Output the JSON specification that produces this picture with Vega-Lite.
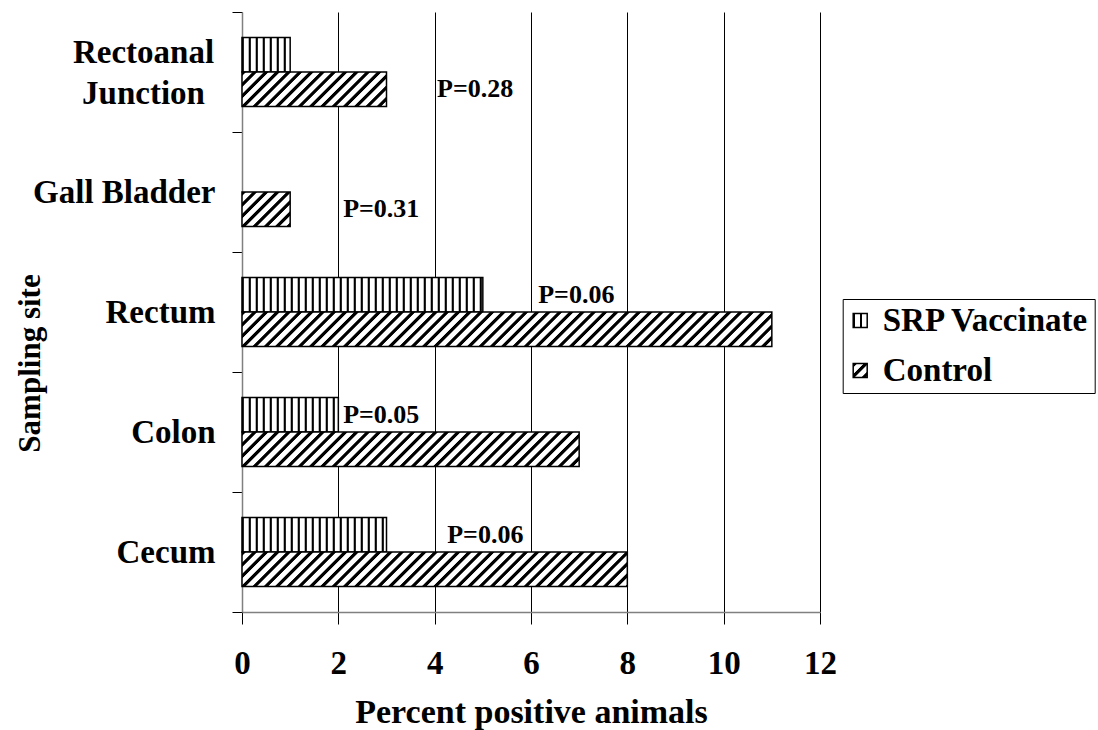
{
  "$schema": "https://vega.github.io/schema/vega-lite/v6.json",
  "width": 578,
  "height": 600,
  "autosize": "none",
  "padding": {"left": 242, "top": 12, "right": 278, "bottom": 118},
  "background": "white",
  "config": {"view": {"stroke": null}, "font": "Liberation Serif"},
  "params": [
    {"name": "srpStops", "value": [
      {"offset":0,"color":"#000"},{"offset":0.004,"color":"#000"},{"offset":0.006,"color":"#fff"},{"offset":0.018,"color":"#fff"},
      {"offset":0.02,"color":"#000"},{"offset":0.024,"color":"#000"},{"offset":0.026,"color":"#fff"},{"offset":0.038,"color":"#fff"},
      {"offset":0.04,"color":"#000"},{"offset":0.044,"color":"#000"},{"offset":0.046,"color":"#fff"},{"offset":0.058,"color":"#fff"},
      {"offset":0.06,"color":"#000"},{"offset":0.064,"color":"#000"},{"offset":0.066,"color":"#fff"},{"offset":0.078,"color":"#fff"},
      {"offset":0.08,"color":"#000"},{"offset":0.084,"color":"#000"},{"offset":0.086,"color":"#fff"},{"offset":0.098,"color":"#fff"},
      {"offset":0.1,"color":"#000"},{"offset":0.104,"color":"#000"},{"offset":0.106,"color":"#fff"},{"offset":0.118,"color":"#fff"},
      {"offset":0.12,"color":"#000"},{"offset":0.124,"color":"#000"},{"offset":0.126,"color":"#fff"},{"offset":0.138,"color":"#fff"},
      {"offset":0.14,"color":"#000"},{"offset":0.144,"color":"#000"},{"offset":0.146,"color":"#fff"},{"offset":0.158,"color":"#fff"},
      {"offset":0.16,"color":"#000"},{"offset":0.164,"color":"#000"},{"offset":0.166,"color":"#fff"},{"offset":0.178,"color":"#fff"},
      {"offset":0.18,"color":"#000"},{"offset":0.184,"color":"#000"},{"offset":0.186,"color":"#fff"},{"offset":0.198,"color":"#fff"},
      {"offset":0.2,"color":"#000"},{"offset":0.204,"color":"#000"},{"offset":0.206,"color":"#fff"},{"offset":0.218,"color":"#fff"},
      {"offset":0.22,"color":"#000"},{"offset":0.224,"color":"#000"},{"offset":0.226,"color":"#fff"},{"offset":0.238,"color":"#fff"},
      {"offset":0.24,"color":"#000"},{"offset":0.244,"color":"#000"},{"offset":0.246,"color":"#fff"},{"offset":0.258,"color":"#fff"},
      {"offset":0.26,"color":"#000"},{"offset":0.264,"color":"#000"},{"offset":0.266,"color":"#fff"},{"offset":0.278,"color":"#fff"},
      {"offset":0.28,"color":"#000"},{"offset":0.284,"color":"#000"},{"offset":0.286,"color":"#fff"},{"offset":0.298,"color":"#fff"},
      {"offset":0.3,"color":"#000"},{"offset":0.304,"color":"#000"},{"offset":0.306,"color":"#fff"},{"offset":0.318,"color":"#fff"},
      {"offset":0.32,"color":"#000"},{"offset":0.324,"color":"#000"},{"offset":0.326,"color":"#fff"},{"offset":0.338,"color":"#fff"},
      {"offset":0.34,"color":"#000"},{"offset":0.344,"color":"#000"},{"offset":0.346,"color":"#fff"},{"offset":0.358,"color":"#fff"},
      {"offset":0.36,"color":"#000"},{"offset":0.364,"color":"#000"},{"offset":0.366,"color":"#fff"},{"offset":0.378,"color":"#fff"},
      {"offset":0.38,"color":"#000"},{"offset":0.384,"color":"#000"},{"offset":0.386,"color":"#fff"},{"offset":0.398,"color":"#fff"},
      {"offset":0.4,"color":"#000"},{"offset":0.404,"color":"#000"},{"offset":0.406,"color":"#fff"},{"offset":0.418,"color":"#fff"},
      {"offset":0.42,"color":"#000"},{"offset":0.424,"color":"#000"},{"offset":0.426,"color":"#fff"},{"offset":0.438,"color":"#fff"},
      {"offset":0.44,"color":"#000"},{"offset":0.444,"color":"#000"},{"offset":0.446,"color":"#fff"},{"offset":0.458,"color":"#fff"},
      {"offset":0.46,"color":"#000"},{"offset":0.464,"color":"#000"},{"offset":0.466,"color":"#fff"},{"offset":0.478,"color":"#fff"},
      {"offset":0.48,"color":"#000"},{"offset":0.484,"color":"#000"},{"offset":0.486,"color":"#fff"},{"offset":0.498,"color":"#fff"},
      {"offset":0.5,"color":"#000"},{"offset":0.504,"color":"#000"},{"offset":0.506,"color":"#fff"},{"offset":0.518,"color":"#fff"},
      {"offset":0.52,"color":"#000"},{"offset":0.524,"color":"#000"},{"offset":0.526,"color":"#fff"},{"offset":0.538,"color":"#fff"},
      {"offset":0.54,"color":"#000"},{"offset":0.544,"color":"#000"},{"offset":0.546,"color":"#fff"},{"offset":0.558,"color":"#fff"},
      {"offset":0.56,"color":"#000"},{"offset":0.564,"color":"#000"},{"offset":0.566,"color":"#fff"},{"offset":0.578,"color":"#fff"},
      {"offset":0.58,"color":"#000"},{"offset":0.584,"color":"#000"},{"offset":0.586,"color":"#fff"},{"offset":0.598,"color":"#fff"},
      {"offset":0.6,"color":"#000"},{"offset":0.604,"color":"#000"},{"offset":0.606,"color":"#fff"},{"offset":0.618,"color":"#fff"},
      {"offset":0.62,"color":"#000"},{"offset":0.624,"color":"#000"},{"offset":0.626,"color":"#fff"},{"offset":0.638,"color":"#fff"},
      {"offset":0.64,"color":"#000"},{"offset":0.644,"color":"#000"},{"offset":0.646,"color":"#fff"},{"offset":0.658,"color":"#fff"},
      {"offset":0.66,"color":"#000"},{"offset":0.664,"color":"#000"},{"offset":0.666,"color":"#fff"},{"offset":0.678,"color":"#fff"},
      {"offset":0.68,"color":"#000"},{"offset":0.684,"color":"#000"},{"offset":0.686,"color":"#fff"},{"offset":0.698,"color":"#fff"},
      {"offset":0.7,"color":"#000"},{"offset":0.704,"color":"#000"},{"offset":0.706,"color":"#fff"},{"offset":0.718,"color":"#fff"},
      {"offset":1,"color":"#fff"}
    ]},
    {"name": "ctlStops", "value": [
      {"offset":0,"color":"#000"},{"offset":0.006,"color":"#000"},{"offset":0.008,"color":"#fff"},{"offset":0.018,"color":"#fff"},
      {"offset":0.02,"color":"#000"},{"offset":0.026,"color":"#000"},{"offset":0.028,"color":"#fff"},{"offset":0.038,"color":"#fff"},
      {"offset":0.04,"color":"#000"},{"offset":0.046,"color":"#000"},{"offset":0.048,"color":"#fff"},{"offset":0.058,"color":"#fff"},
      {"offset":0.06,"color":"#000"},{"offset":0.066,"color":"#000"},{"offset":0.068,"color":"#fff"},{"offset":0.078,"color":"#fff"},
      {"offset":0.08,"color":"#000"},{"offset":0.086,"color":"#000"},{"offset":0.088,"color":"#fff"},{"offset":0.098,"color":"#fff"},
      {"offset":0.1,"color":"#000"},{"offset":0.106,"color":"#000"},{"offset":0.108,"color":"#fff"},{"offset":0.118,"color":"#fff"},
      {"offset":0.12,"color":"#000"},{"offset":0.126,"color":"#000"},{"offset":0.128,"color":"#fff"},{"offset":0.138,"color":"#fff"},
      {"offset":0.14,"color":"#000"},{"offset":0.146,"color":"#000"},{"offset":0.148,"color":"#fff"},{"offset":0.158,"color":"#fff"},
      {"offset":0.16,"color":"#000"},{"offset":0.166,"color":"#000"},{"offset":0.168,"color":"#fff"},{"offset":0.178,"color":"#fff"},
      {"offset":0.18,"color":"#000"},{"offset":0.186,"color":"#000"},{"offset":0.188,"color":"#fff"},{"offset":0.198,"color":"#fff"},
      {"offset":0.2,"color":"#000"},{"offset":0.206,"color":"#000"},{"offset":0.208,"color":"#fff"},{"offset":0.218,"color":"#fff"},
      {"offset":0.22,"color":"#000"},{"offset":0.226,"color":"#000"},{"offset":0.228,"color":"#fff"},{"offset":0.238,"color":"#fff"},
      {"offset":0.24,"color":"#000"},{"offset":0.246,"color":"#000"},{"offset":0.248,"color":"#fff"},{"offset":0.258,"color":"#fff"},
      {"offset":0.26,"color":"#000"},{"offset":0.266,"color":"#000"},{"offset":0.268,"color":"#fff"},{"offset":0.278,"color":"#fff"},
      {"offset":0.28,"color":"#000"},{"offset":0.286,"color":"#000"},{"offset":0.288,"color":"#fff"},{"offset":0.298,"color":"#fff"},
      {"offset":0.3,"color":"#000"},{"offset":0.306,"color":"#000"},{"offset":0.308,"color":"#fff"},{"offset":0.318,"color":"#fff"},
      {"offset":0.32,"color":"#000"},{"offset":0.326,"color":"#000"},{"offset":0.328,"color":"#fff"},{"offset":0.338,"color":"#fff"},
      {"offset":0.34,"color":"#000"},{"offset":0.346,"color":"#000"},{"offset":0.348,"color":"#fff"},{"offset":0.358,"color":"#fff"},
      {"offset":0.36,"color":"#000"},{"offset":0.366,"color":"#000"},{"offset":0.368,"color":"#fff"},{"offset":0.378,"color":"#fff"},
      {"offset":0.38,"color":"#000"},{"offset":0.386,"color":"#000"},{"offset":0.388,"color":"#fff"},{"offset":0.398,"color":"#fff"},
      {"offset":0.4,"color":"#000"},{"offset":0.406,"color":"#000"},{"offset":0.408,"color":"#fff"},{"offset":0.418,"color":"#fff"},
      {"offset":0.42,"color":"#000"},{"offset":0.426,"color":"#000"},{"offset":0.428,"color":"#fff"},{"offset":0.438,"color":"#fff"},
      {"offset":0.44,"color":"#000"},{"offset":0.446,"color":"#000"},{"offset":0.448,"color":"#fff"},{"offset":0.458,"color":"#fff"},
      {"offset":0.46,"color":"#000"},{"offset":0.466,"color":"#000"},{"offset":0.468,"color":"#fff"},{"offset":0.478,"color":"#fff"},
      {"offset":0.48,"color":"#000"},{"offset":0.486,"color":"#000"},{"offset":0.488,"color":"#fff"},{"offset":0.498,"color":"#fff"},
      {"offset":0.5,"color":"#000"},{"offset":0.506,"color":"#000"},{"offset":0.508,"color":"#fff"},{"offset":0.518,"color":"#fff"},
      {"offset":0.52,"color":"#000"},{"offset":0.526,"color":"#000"},{"offset":0.528,"color":"#fff"},{"offset":0.538,"color":"#fff"},
      {"offset":0.54,"color":"#000"},{"offset":0.546,"color":"#000"},{"offset":0.548,"color":"#fff"},{"offset":0.558,"color":"#fff"},
      {"offset":0.56,"color":"#000"},{"offset":0.566,"color":"#000"},{"offset":0.568,"color":"#fff"},{"offset":0.578,"color":"#fff"},
      {"offset":0.58,"color":"#000"},{"offset":0.586,"color":"#000"},{"offset":0.588,"color":"#fff"},{"offset":0.598,"color":"#fff"},
      {"offset":0.6,"color":"#000"},{"offset":0.606,"color":"#000"},{"offset":0.608,"color":"#fff"},{"offset":0.618,"color":"#fff"},
      {"offset":0.62,"color":"#000"},{"offset":0.626,"color":"#000"},{"offset":0.628,"color":"#fff"},{"offset":0.638,"color":"#fff"},
      {"offset":0.64,"color":"#000"},{"offset":0.646,"color":"#000"},{"offset":0.648,"color":"#fff"},{"offset":0.658,"color":"#fff"},
      {"offset":0.66,"color":"#000"},{"offset":0.666,"color":"#000"},{"offset":0.668,"color":"#fff"},{"offset":0.678,"color":"#fff"},
      {"offset":0.68,"color":"#000"},{"offset":0.686,"color":"#000"},{"offset":0.688,"color":"#fff"},{"offset":0.698,"color":"#fff"},
      {"offset":0.7,"color":"#000"},{"offset":0.706,"color":"#000"},{"offset":0.708,"color":"#fff"},{"offset":0.718,"color":"#fff"},
      {"offset":0.72,"color":"#000"},{"offset":0.726,"color":"#000"},{"offset":0.728,"color":"#fff"},{"offset":0.738,"color":"#fff"},
      {"offset":0.74,"color":"#000"},{"offset":0.746,"color":"#000"},{"offset":0.748,"color":"#fff"},{"offset":0.758,"color":"#fff"},
      {"offset":0.76,"color":"#000"},{"offset":0.766,"color":"#000"},{"offset":0.768,"color":"#fff"},{"offset":0.778,"color":"#fff"},
      {"offset":0.78,"color":"#000"},{"offset":0.786,"color":"#000"},{"offset":0.788,"color":"#fff"},{"offset":0.798,"color":"#fff"},
      {"offset":0.8,"color":"#000"},{"offset":0.806,"color":"#000"},{"offset":0.808,"color":"#fff"},{"offset":0.818,"color":"#fff"},
      {"offset":0.82,"color":"#000"},{"offset":0.826,"color":"#000"},{"offset":0.828,"color":"#fff"},{"offset":0.838,"color":"#fff"},
      {"offset":0.84,"color":"#000"},{"offset":0.846,"color":"#000"},{"offset":0.848,"color":"#fff"},{"offset":0.858,"color":"#fff"},
      {"offset":0.86,"color":"#000"},{"offset":0.866,"color":"#000"},{"offset":0.868,"color":"#fff"},{"offset":0.878,"color":"#fff"},
      {"offset":0.88,"color":"#000"},{"offset":0.886,"color":"#000"},{"offset":0.888,"color":"#fff"},{"offset":0.898,"color":"#fff"},
      {"offset":0.9,"color":"#000"},{"offset":0.906,"color":"#000"},{"offset":0.908,"color":"#fff"},{"offset":0.918,"color":"#fff"},
      {"offset":0.92,"color":"#000"},{"offset":0.926,"color":"#000"},{"offset":0.928,"color":"#fff"},{"offset":0.938,"color":"#fff"},
      {"offset":0.94,"color":"#000"},{"offset":0.946,"color":"#000"},{"offset":0.948,"color":"#fff"},{"offset":0.958,"color":"#fff"},
      {"offset":0.96,"color":"#000"},{"offset":0.966,"color":"#000"},{"offset":0.968,"color":"#fff"},{"offset":0.978,"color":"#fff"},
      {"offset":0.98,"color":"#000"},{"offset":0.986,"color":"#000"},{"offset":0.988,"color":"#fff"},{"offset":0.998,"color":"#fff"},
      {"offset":1,"color":"#000"}
    ]}
  ],
  "datasets": {
    "bars": [
      {"site": "Rectoanal Junction", "series": "SRP Vaccinate", "value": 1},
      {"site": "Rectoanal Junction", "series": "Control", "value": 3},
      {"site": "Gall Bladder", "series": "SRP Vaccinate", "value": 0},
      {"site": "Gall Bladder", "series": "Control", "value": 1},
      {"site": "Rectum", "series": "SRP Vaccinate", "value": 5},
      {"site": "Rectum", "series": "Control", "value": 11},
      {"site": "Colon", "series": "SRP Vaccinate", "value": 2},
      {"site": "Colon", "series": "Control", "value": 7},
      {"site": "Cecum", "series": "SRP Vaccinate", "value": 3},
      {"site": "Cecum", "series": "Control", "value": 8}
    ],
    "pvals": [
      {"site": "Rectoanal Junction", "series": "Control", "label": "P=0.28", "at": 4.05},
      {"site": "Gall Bladder", "series": "Control", "label": "P=0.31", "at": 2.1},
      {"site": "Rectum", "series": "SRP Vaccinate", "label": "P=0.06", "at": 6.15},
      {"site": "Colon", "series": "SRP Vaccinate", "label": "P=0.05", "at": 2.1},
      {"site": "Cecum", "series": "SRP Vaccinate", "label": "P=0.06", "at": 4.26}
    ]
  },
  "encoding": {
    "y": {
      "field": "site", "type": "nominal",
      "sort": ["Rectoanal Junction", "Gall Bladder", "Rectum", "Colon", "Cecum"],
      "scale": {"paddingInner": 0, "paddingOuter": 0},
      "axis": {
        "title": "Sampling site",
        "tickBand": "extent",
        "tickSize": 10, "tickColor": "#000", "tickWidth": 1,
        "domainColor": "#808080", "domainWidth": 1.5,
        "labelFont": "Liberation Serif", "labelFontSize": 33, "labelFontWeight": "bold", "labelColor": "#000",
        "labelPadding": {"condition": {"test": "datum.value == 'Rectoanal Junction'", "value": 89}, "value": 17},
        "labelAlign": {"condition": {"test": "datum.value == 'Rectoanal Junction'", "value": "center"}, "value": "right"},
        "labelOffset": {"condition": {"test": "datum.value == 'Rectoanal Junction'", "value": -20}, "value": 0},
        "labelBaseline": "middle", "labelLineHeight": 41, "labelLimit": 0,
        "labelExpr": "datum.label == 'Rectoanal Junction' ? ['Rectoanal', 'Junction'] : datum.label",
        "titleFont": "Liberation Serif", "titleFontSize": 31, "titleFontWeight": "bold", "titleColor": "#000",
        "titleAngle": 270, "titleX": -212, "titleY": 351, "titleAlign": "center", "titleBaseline": "middle",
        "grid": false
      }
    },
    "yOffset": {
      "field": "series", "type": "nominal",
      "sort": ["SRP Vaccinate", "Control"],
      "scale": {"domain": ["SRP Vaccinate", "Control"], "paddingInner": 0, "paddingOuter": 0.739}
    }
  },
  "layer": [
    {
      "data": {"name": "bars"},
      "mark": {
        "type": "bar",
        "strokeWidth": 1.5,
        "fill": {"expr": "(datum.series || datum.value) == 'Control' ? {gradient: 'linear', x1: 0, y1: 0, x2: 565 * (datum.series ? max(1, scale('x', datum.value) - scale('x', 0)) : 14) / ((datum.series ? max(1, scale('x', datum.value) - scale('x', 0)) : 14) * (datum.series ? max(1, scale('x', datum.value) - scale('x', 0)) : 14) + (datum.series ? 34.5 : 14) * (datum.series ? 34.5 : 14)), y2: 565 * (datum.series ? 34.5 : 14) / ((datum.series ? max(1, scale('x', datum.value) - scale('x', 0)) : 14) * (datum.series ? max(1, scale('x', datum.value) - scale('x', 0)) : 14) + (datum.series ? 34.5 : 14) * (datum.series ? 34.5 : 14)), stops: ctlStops} : {gradient: 'linear', x1: 0, y1: 0, x2: 350 / (datum.series ? max(1, scale('x', datum.value) - scale('x', 0)) : 14), y2: 0, stops: srpStops}"}
      },
      "encoding": {
        "x": {
          "field": "value", "type": "quantitative", "stack": null,
          "scale": {"domain": [0, 12], "nice": false},
          "axis": {
            "values": [0, 2, 4, 6, 8, 10, 12],
            "grid": true,
            "gridColor": {"condition": {"test": "datum.value === 0", "value": "#808080"}, "value": "#000"},
            "gridWidth": 1,
            "domainColor": "#808080", "domainWidth": 1.5,
            "tickColor": "#000", "tickSize": 12, "tickWidth": 1,
            "labelFont": "Liberation Serif", "labelFontSize": 33, "labelFontWeight": "bold", "labelColor": "#000",
            "labelBaseline": "alphabetic", "labelPadding": 49, "labelFlush": false,
            "title": "Percent positive animals",
            "titleFont": "Liberation Serif", "titleFontSize": 34, "titleFontWeight": "bold", "titleColor": "#000",
            "titleX": 289, "titleY": 110, "titleAlign": "center", "titleBaseline": "alphabetic"
          }
        },
        "strokeOpacity": {"condition": {"test": "datum.value == 0", "value": 0}, "value": 1},
        "stroke": {
          "field": "series", "type": "nominal",
          "scale": {"domain": ["SRP Vaccinate", "Control"], "range": ["#000", "#000"]},
          "legend": {
            "title": null,
            "orient": "none", "legendX": 600.7, "legendY": 287,
            "direction": "vertical",
            "strokeColor": "#000", "fillColor": "#fff", "padding": 5,
            "symbolType": "square", "symbolSize": 196, "symbolStrokeWidth": 1.5, "symbolStrokeColor": "#000",
            "symbolOffset": -4,
            "labelFont": "Liberation Serif", "labelFontSize": 33, "labelFontWeight": "bold", "labelColor": "#000",
            "labelOffset": 6, "rowPadding": 16, "labelLimit": 0
          }
        }
      }
    },
    {
      "data": {"name": "pvals"},
      "mark": {"type": "text", "align": "left", "baseline": "middle", "font": "Liberation Serif", "fontSize": 26, "fontWeight": "bold", "color": "#000"},
      "encoding": {
        "x": {"field": "at", "type": "quantitative", "title": "Percent positive animals"},
        "text": {"field": "label"}
      }
    }
  ]
}
